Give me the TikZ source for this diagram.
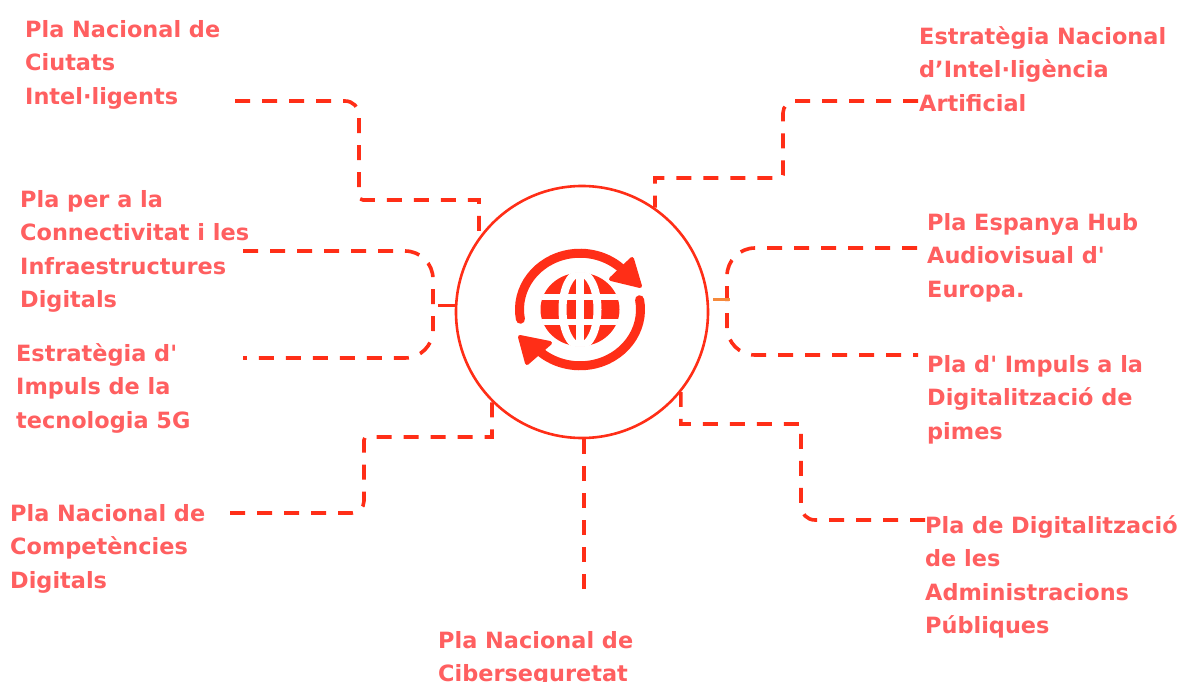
\documentclass[tikz,border=0pt]{standalone}
\usepackage{fontspec}
\setmainfont{DejaVu Sans}[Ligatures=TeXOff]
\definecolor{linec}{HTML}{FF2E17}
\definecolor{textc}{HTML}{FF5F60}
\definecolor{stubc}{HTML}{F58A3C}
\tikzset{
  lab/.style={anchor=north west,align=left,inner sep=0pt,text=textc,font=\bfseries\fontsize{22.4}{33.5}\selectfont},
  conn/.style={draw=linec,line width=3.6pt,dash pattern=on 15pt off 12pt},
  stub/.style={draw=linec,line width=3pt},
  hubc/.style={circle,draw=linec,line width=2.6pt,fill=white,minimum size=252pt,inner sep=0pt},
  ringc/.style={draw=linec,line width=9pt,line cap=round},
  heads/.style={fill=linec,draw=linec,line width=4pt,line join=round}
}
\begin{document}
\begin{tikzpicture}[x=1pt,y=-1pt]
\useasboundingbox (0,0) rectangle (1179,682);
\clip (0,0) rectangle (1179,682);
\fill[white] (0,0) rectangle (1179,682);

\node[hubc] (hub) at (582,312) {};
\coordinate (icon) at (580,309.5);

% labels
\node[lab] (t1) at (25,20) {Pla Nacional de\\Ciutats\\Intel·ligents};
\node[lab] (t2) at (20,190) {Pla per a la\\Connectivitat i les\\Infraestructures\\Digitals};
\node[lab] (t3) at (16,343) {Estratègia d'\\Impuls de la\\tecnologia 5G};
\node[lab] (t4) at (10,504) {Pla Nacional de\\Competències\\Digitals};
\node[lab] (t5) at (438,631) {Pla Nacional de\\Ciberseguretat};
\node[lab] (t6) at (919,26) {Estratègia Nacional\\d’Intel·ligència\\Artificial};
\node[lab] (t7) at (927,213) {Pla Espanya Hub\\Audiovisual d'\\Europa.};
\node[lab] (t8) at (927,355) {Pla d' Impuls a la\\Digitalització de\\pimes};
\node[lab] (t9) at (925,515) {Pla de Digitalització\\de les\\Administracions\\Públiques};

% connector free ends
\coordinate (e1) at (235,101);
\coordinate (e2) at (243,251);
\coordinate (e3) at (243,358);
\coordinate (e4) at (230,513);
\coordinate (e5) at (584,590);
\coordinate (e6) at (918,101);
\coordinate (e7) at (917,248);
\coordinate (e8) at (918,355);
\coordinate (e9) at (925,520);
\coordinate (j1) at (433,305);
\coordinate (j2) at (727,299);

% connectors
\draw[conn] (e1) [rounded corners=14pt] -- (359,101) [rounded corners=4pt] -- (359,200) [sharp corners] -| (hub.144);
\draw[conn,rounded corners=28pt] (e2) -- (433,251) -- (433,358) -- (e3);
\draw[stub] (438,305) -- (hub.west |- j1);
\draw[conn] (e4) [rounded corners=12pt] -- (364,513) [rounded corners=3pt] -- (364,437) [sharp corners] -| (hub.225);
\draw[conn] (hub.south -| e5) -- (e5);
\draw[conn] (e6) [rounded corners=12pt] -- (783,101) [rounded corners=3pt] -- (783,178) [sharp corners] -| (hub.55);
\draw[conn,rounded corners=28pt] (e7) -- (727,248) -- (727,355) -- (e8);
\draw[stubc,line width=3pt] (713,299) -- (j2) -- (730,299);
\draw[conn] (e9) [rounded corners=14pt] -- (801,520) [sharp corners] -- (801,424) -| (hub.-39);

% icon
\begin{scope}[shift={(icon)},yscale=0.93]
\fill[linec] (0,0) circle[radius=39.5pt];
\begin{scope}
\clip (0,0) circle[radius=40pt];
\draw[white,line width=6.5pt] (-45pt,13.5pt) -- (45pt,13.5pt);
\draw[white,line width=6.5pt] (-45pt,-13.5pt) -- (45pt,-13.5pt);
\draw[white,line width=8pt] (0pt,45pt) -- (0pt,-45pt);
\draw[white,line width=8pt] (0,0) ellipse[x radius=17.5pt,y radius=39.5pt];
\end{scope}
\draw[ringc] (190:60.5pt) arc[start angle=190,end angle=40,radius=60.5pt];
\draw[ringc] (10:60.5pt) arc[start angle=10,end angle=-140,radius=60.5pt];
\end{scope}
\path[heads] (632,259) -- (640,286) -- (611,279) -- cycle;
\path[heads] (520,337) -- (550,343) -- (527,363) -- cycle;
\end{tikzpicture}
\end{document}
